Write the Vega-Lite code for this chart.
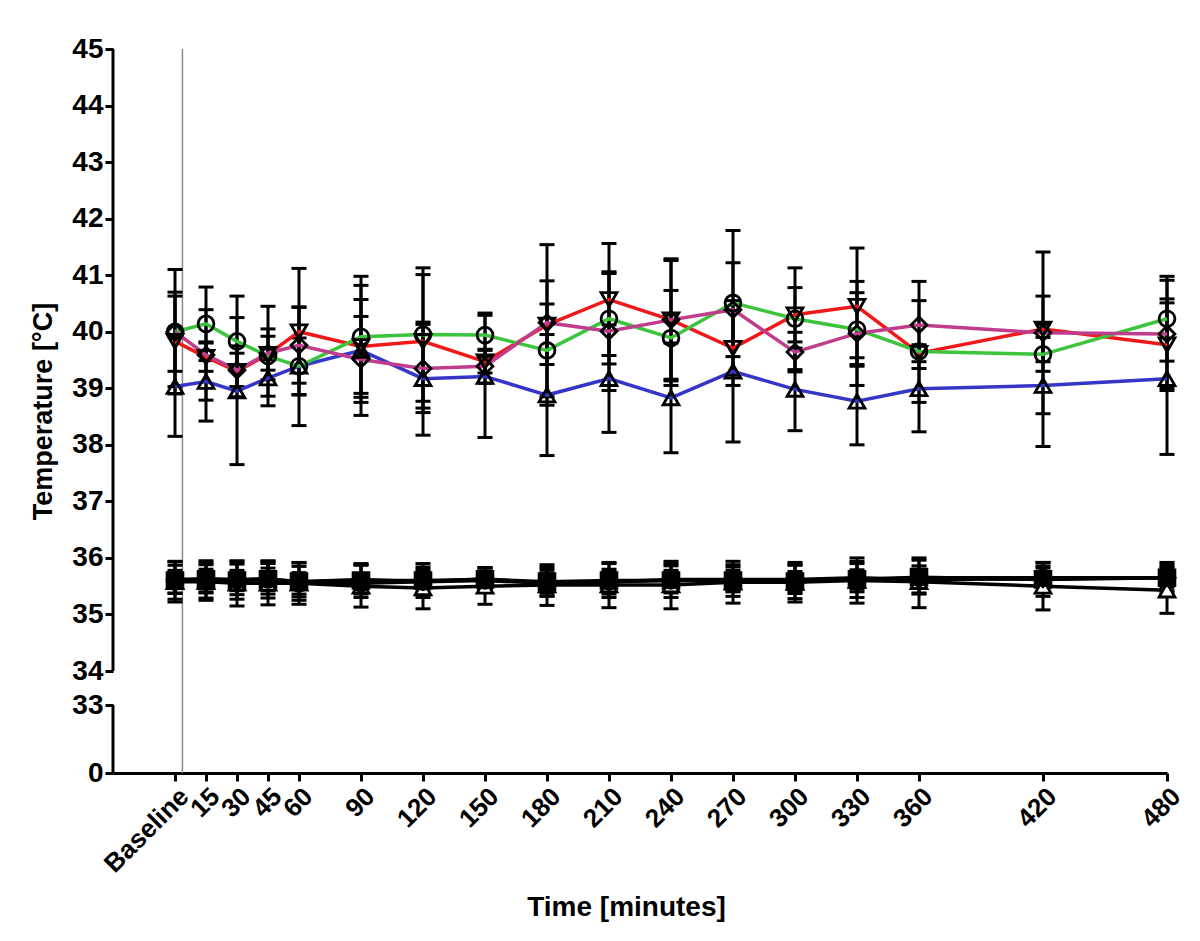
{
  "$schema": "https://vega.github.io/schema/vega-lite/v6.json",
  "width": 1054,
  "height": 724,
  "autosize": {"type": "none"},
  "padding": {"left": 113, "top": 49, "right": 33, "bottom": 168},
  "background": "white",
  "config": {
    "view": {"stroke": null},
    "font": "Liberation Sans",
    "axis": {"grid": false}
  },
  "datasets": {
    "yaxis": [
      {"x": -30, "y": 0, "y2": 33},
      {"x": -30, "y": 34, "y2": 45}
    ],
    "guide": [{"t": 3.6}],
    "temps": [
      {"s":"B","t":0,"m":39.03,"lo":38.15,"hi":39.91},
      {"s":"B","t":15,"m":39.12,"lo":38.42,"hi":39.82},
      {"s":"B","t":30,"m":38.95,"lo":37.65,"hi":40.25},
      {"s":"B","t":45,"m":39.18,"lo":38.86,"hi":39.50},
      {"s":"B","t":60,"m":39.39,"lo":38.34,"hi":40.44},
      {"s":"B","t":90,"m":39.67,"lo":38.52,"hi":40.82},
      {"s":"B","t":120,"m":39.17,"lo":38.17,"hi":40.17},
      {"s":"B","t":150,"m":39.21,"lo":38.13,"hi":40.29},
      {"s":"B","t":180,"m":38.88,"lo":37.81,"hi":39.95},
      {"s":"B","t":210,"m":39.17,"lo":38.22,"hi":40.12},
      {"s":"B","t":240,"m":38.83,"lo":37.86,"hi":39.80},
      {"s":"B","t":270,"m":39.30,"lo":38.05,"hi":40.55},
      {"s":"B","t":300,"m":38.98,"lo":38.25,"hi":39.71},
      {"s":"B","t":330,"m":38.77,"lo":38.00,"hi":39.54},
      {"s":"B","t":360,"m":38.99,"lo":38.23,"hi":39.75},
      {"s":"B","t":420,"m":39.05,"lo":37.97,"hi":40.13},
      {"s":"B","t":480,"m":39.17,"lo":37.83,"hi":40.51},

      {"s":"R","t":0,"m":39.83,"lo":39.03,"hi":40.63},
      {"s":"R","t":15,"m":39.55,"lo":39.30,"hi":39.80},
      {"s":"R","t":30,"m":39.30,"lo":38.85,"hi":39.75},
      {"s":"R","t":45,"m":39.60,"lo":39.15,"hi":40.05},
      {"s":"R","t":60,"m":40.00,"lo":38.88,"hi":41.12},
      {"s":"R","t":90,"m":39.74,"lo":38.91,"hi":40.57},
      {"s":"R","t":120,"m":39.83,"lo":38.65,"hi":41.01},
      {"s":"R","t":150,"m":39.47,"lo":39.27,"hi":39.67},
      {"s":"R","t":180,"m":40.12,"lo":38.70,"hi":41.54},
      {"s":"R","t":210,"m":40.57,"lo":39.58,"hi":41.56},
      {"s":"R","t":240,"m":40.21,"lo":39.13,"hi":41.29},
      {"s":"R","t":270,"m":39.71,"lo":39.05,"hi":40.37},
      {"s":"R","t":300,"m":40.30,"lo":39.82,"hi":40.78},
      {"s":"R","t":330,"m":40.45,"lo":39.42,"hi":41.48},
      {"s":"R","t":360,"m":39.62,"lo":39.47,"hi":39.77},
      {"s":"R","t":420,"m":40.05,"lo":39.47,"hi":40.63},
      {"s":"R","t":480,"m":39.77,"lo":38.96,"hi":40.58},

      {"s":"G","t":0,"m":40.00,"lo":38.90,"hi":41.10},
      {"s":"G","t":15,"m":40.14,"lo":39.49,"hi":40.79},
      {"s":"G","t":30,"m":39.83,"lo":39.03,"hi":40.63},
      {"s":"G","t":45,"m":39.57,"lo":38.69,"hi":40.45},
      {"s":"G","t":60,"m":39.39,"lo":38.89,"hi":39.89},
      {"s":"G","t":90,"m":39.91,"lo":38.84,"hi":40.98},
      {"s":"G","t":120,"m":39.95,"lo":38.77,"hi":41.13},
      {"s":"G","t":150,"m":39.94,"lo":39.55,"hi":40.33},
      {"s":"G","t":180,"m":39.67,"lo":38.85,"hi":40.49},
      {"s":"G","t":210,"m":40.23,"lo":39.43,"hi":41.03},
      {"s":"G","t":240,"m":39.89,"lo":39.05,"hi":40.73},
      {"s":"G","t":270,"m":40.51,"lo":39.23,"hi":41.79},
      {"s":"G","t":300,"m":40.23,"lo":39.33,"hi":41.13},
      {"s":"G","t":330,"m":40.04,"lo":39.39,"hi":40.69},
      {"s":"G","t":360,"m":39.65,"lo":38.75,"hi":40.55},
      {"s":"G","t":420,"m":39.60,"lo":39.30,"hi":39.90},
      {"s":"G","t":480,"m":40.23,"lo":39.48,"hi":40.98},

      {"s":"M","t":0,"m":40.00,"lo":39.30,"hi":40.70},
      {"s":"M","t":15,"m":39.59,"lo":38.79,"hi":40.39},
      {"s":"M","t":30,"m":39.32,"lo":39.02,"hi":39.62},
      {"s":"M","t":45,"m":39.62,"lo":39.32,"hi":39.92},
      {"s":"M","t":60,"m":39.76,"lo":39.09,"hi":40.43},
      {"s":"M","t":90,"m":39.51,"lo":38.75,"hi":40.27},
      {"s":"M","t":120,"m":39.35,"lo":38.57,"hi":40.13},
      {"s":"M","t":150,"m":39.39,"lo":39.09,"hi":39.69},
      {"s":"M","t":180,"m":40.16,"lo":39.42,"hi":40.90},
      {"s":"M","t":210,"m":40.01,"lo":38.96,"hi":41.06},
      {"s":"M","t":240,"m":40.21,"lo":39.16,"hi":41.26},
      {"s":"M","t":270,"m":40.39,"lo":39.56,"hi":41.22},
      {"s":"M","t":300,"m":39.64,"lo":39.29,"hi":39.99},
      {"s":"M","t":330,"m":39.97,"lo":39.05,"hi":40.89},
      {"s":"M","t":360,"m":40.12,"lo":39.35,"hi":40.89},
      {"s":"M","t":420,"m":39.98,"lo":38.55,"hi":41.41},
      {"s":"M","t":480,"m":39.96,"lo":39.01,"hi":40.91},

      {"s":"K1","t":0,"m":35.60,"lo":35.27,"hi":35.93},
      {"s":"K1","t":15,"m":35.62,"lo":35.29,"hi":35.95},
      {"s":"K1","t":30,"m":35.60,"lo":35.27,"hi":35.93},
      {"s":"K1","t":45,"m":35.62,"lo":35.29,"hi":35.95},
      {"s":"K1","t":60,"m":35.58,"lo":35.25,"hi":35.91},
      {"s":"K1","t":90,"m":35.60,"lo":35.30,"hi":35.90},
      {"s":"K1","t":120,"m":35.60,"lo":35.30,"hi":35.90},
      {"s":"K1","t":150,"m":35.62,"lo":35.42,"hi":35.82},
      {"s":"K1","t":180,"m":35.58,"lo":35.33,"hi":35.83},
      {"s":"K1","t":210,"m":35.60,"lo":35.30,"hi":35.90},
      {"s":"K1","t":240,"m":35.60,"lo":35.30,"hi":35.90},
      {"s":"K1","t":270,"m":35.60,"lo":35.32,"hi":35.88},
      {"s":"K1","t":300,"m":35.58,"lo":35.28,"hi":35.88},
      {"s":"K1","t":330,"m":35.62,"lo":35.30,"hi":35.94},
      {"s":"K1","t":360,"m":35.66,"lo":35.36,"hi":35.96},
      {"s":"K1","t":420,"m":35.62,"lo":35.32,"hi":35.92},
      {"s":"K1","t":480,"m":35.65,"lo":35.38,"hi":35.92},

      {"s":"K2","t":0,"m":35.58,"lo":35.22,"hi":35.94},
      {"s":"K2","t":15,"m":35.58,"lo":35.25,"hi":35.91},
      {"s":"K2","t":30,"m":35.55,"lo":35.15,"hi":35.95},
      {"s":"K2","t":45,"m":35.55,"lo":35.17,"hi":35.93},
      {"s":"K2","t":60,"m":35.55,"lo":35.18,"hi":35.92},
      {"s":"K2","t":90,"m":35.50,"lo":35.13,"hi":35.87},
      {"s":"K2","t":120,"m":35.47,"lo":35.10,"hi":35.84},
      {"s":"K2","t":150,"m":35.50,"lo":35.18,"hi":35.82},
      {"s":"K2","t":180,"m":35.52,"lo":35.16,"hi":35.88},
      {"s":"K2","t":210,"m":35.52,"lo":35.12,"hi":35.92},
      {"s":"K2","t":240,"m":35.52,"lo":35.10,"hi":35.94},
      {"s":"K2","t":270,"m":35.57,"lo":35.20,"hi":35.94},
      {"s":"K2","t":300,"m":35.57,"lo":35.22,"hi":35.92},
      {"s":"K2","t":330,"m":35.60,"lo":35.20,"hi":36.00},
      {"s":"K2","t":360,"m":35.58,"lo":35.12,"hi":36.00},
      {"s":"K2","t":420,"m":35.50,"lo":35.08,"hi":35.92},
      {"s":"K2","t":480,"m":35.43,"lo":35.02,"hi":35.84},

      {"s":"K3","t":0,"m":35.62,"lo":35.37,"hi":35.87},
      {"s":"K3","t":15,"m":35.63,"lo":35.38,"hi":35.88},
      {"s":"K3","t":30,"m":35.62,"lo":35.35,"hi":35.89},
      {"s":"K3","t":45,"m":35.63,"lo":35.36,"hi":35.90},
      {"s":"K3","t":60,"m":35.58,"lo":35.31,"hi":35.85},
      {"s":"K3","t":90,"m":35.62,"lo":35.36,"hi":35.88},
      {"s":"K3","t":120,"m":35.58,"lo":35.36,"hi":35.80},
      {"s":"K3","t":150,"m":35.63,"lo":35.43,"hi":35.83},
      {"s":"K3","t":180,"m":35.55,"lo":35.32,"hi":35.78},
      {"s":"K3","t":210,"m":35.58,"lo":35.36,"hi":35.80},
      {"s":"K3","t":240,"m":35.62,"lo":35.38,"hi":35.86},
      {"s":"K3","t":270,"m":35.62,"lo":35.40,"hi":35.84},
      {"s":"K3","t":300,"m":35.62,"lo":35.37,"hi":35.87},
      {"s":"K3","t":330,"m":35.65,"lo":35.40,"hi":35.90},
      {"s":"K3","t":360,"m":35.62,"lo":35.38,"hi":35.86},
      {"s":"K3","t":420,"m":35.63,"lo":35.40,"hi":35.86},
      {"s":"K3","t":480,"m":35.65,"lo":35.42,"hi":35.88},

      {"s":"K4","t":0,"m":35.58,"lo":35.38,"hi":35.78},
      {"s":"K4","t":15,"m":35.60,"lo":35.40,"hi":35.80},
      {"s":"K4","t":30,"m":35.60,"lo":35.42,"hi":35.78},
      {"s":"K4","t":45,"m":35.62,"lo":35.42,"hi":35.82},
      {"s":"K4","t":60,"m":35.55,"lo":35.36,"hi":35.74},
      {"s":"K4","t":90,"m":35.55,"lo":35.40,"hi":35.70},
      {"s":"K4","t":120,"m":35.58,"lo":35.40,"hi":35.76},
      {"s":"K4","t":150,"m":35.60,"lo":35.45,"hi":35.75},
      {"s":"K4","t":180,"m":35.55,"lo":35.38,"hi":35.72},
      {"s":"K4","t":210,"m":35.58,"lo":35.40,"hi":35.76},
      {"s":"K4","t":240,"m":35.60,"lo":35.42,"hi":35.78},
      {"s":"K4","t":270,"m":35.60,"lo":35.42,"hi":35.78},
      {"s":"K4","t":300,"m":35.58,"lo":35.40,"hi":35.76},
      {"s":"K4","t":330,"m":35.62,"lo":35.45,"hi":35.79},
      {"s":"K4","t":360,"m":35.65,"lo":35.50,"hi":35.80},
      {"s":"K4","t":420,"m":35.65,"lo":35.48,"hi":35.82},
      {"s":"K4","t":480,"m":35.65,"lo":35.48,"hi":35.82}
    ]
  },
  "layer": [
    {
      "data": {"name": "yaxis"},
      "mark": {"type": "rule", "color": "black", "strokeWidth": 3},
      "encoding": {
        "x": {
          "field": "x", "type": "quantitative",
          "title": "Time [minutes]",
          "scale": {"domain": [-30, 480], "nice": false, "zero": false},
          "axis": {
            "values": [0, 15, 30, 45, 60, 90, 120, 150, 180, 210, 240, 270, 300, 330, 360, 420, 480],
            "labelExpr": "datum.value == 0 ? 'Baseline' : datum.label",
            "labelAngle": -45,
            "labelFontSize": 26,
            "labelFontWeight": "bold",
            "labelColor": "black",
            "labelPadding": 2,
            "labelOverlap": false,
            "labelFlush": false,
            "tickSize": 8,
            "tickWidth": 3,
            "tickColor": "black",
            "domainWidth": 3,
            "domainColor": "black",
            "titleFontSize": 28,
            "titleFontWeight": "bold",
            "titleColor": "black",
            "titlePadding": 16,
            "titleX": 513
          }
        },
        "y": {
          "field": "y", "type": "quantitative",
          "title": "Temperature [°C]",
          "scale": {"domain": [0, 33, 34, 45], "range": [724, 656, 622, 0], "nice": false, "zero": false},
          "axis": {
            "values": [0, 33, 34, 35, 36, 37, 38, 39, 40, 41, 42, 43, 44, 45],
            "domain": false,
            "labelFontSize": 28,
            "labelFontWeight": "bold",
            "labelColor": "black",
            "labelPadding": 2,
            "labelOverlap": false,
            "labelFlush": false,
            "tickSize": 8,
            "tickWidth": 3,
            "tickColor": "black",
            "titleFontSize": 27,
            "titleFontWeight": "bold",
            "titleColor": "black",
            "titlePadding": 14
          }
        },
        "y2": {"field": "y2"}
      }
    },
    {
      "data": {"name": "guide"},
      "mark": {"type": "rule", "color": "#8a8a8a", "strokeWidth": 1.5},
      "encoding": {
        "x": {"field": "t", "type": "quantitative", "title": "Time [minutes]"}
      }
    },
    {
      "data": {"name": "temps"},
      "mark": {"type": "errorbar", "color": "black", "opacity": 1, "thickness": 3, "rule": {"opacity": 1, "color": "black", "strokeWidth": 3}, "ticks": {"size": 15, "thickness": 3, "color": "black", "opacity": 1}},
      "encoding": {
        "x": {"field": "t", "type": "quantitative", "title": "Time [minutes]"},
        "y": {"field": "lo", "type": "quantitative", "title": "Temperature [°C]"},
        "y2": {"field": "hi"},
        "detail": {"field": "s"}
      }
    },
    {
      "data": {"name": "temps"},
      "mark": {"type": "line", "strokeWidth": 3.5},
      "encoding": {
        "x": {"field": "t", "type": "quantitative", "title": "Time [minutes]"},
        "y": {"field": "m", "type": "quantitative", "title": "Temperature [°C]"},
        "color": {
          "field": "s", "type": "nominal", "legend": null,
          "scale": {"domain": ["B", "R", "G", "M", "K1", "K2", "K3", "K4"], "range": ["#3535c8", "#f01818", "#3cc43c", "#c03c8c", "black", "black", "black", "black"]}
        }
      }
    },
    {
      "data": {"name": "temps"},
      "mark": {"type": "point", "filled": true, "stroke": "black", "strokeWidth": 2.8, "size": 250, "opacity": 1},
      "encoding": {
        "x": {"field": "t", "type": "quantitative", "title": "Time [minutes]"},
        "y": {"field": "m", "type": "quantitative", "title": "Temperature [°C]"},
        "shape": {
          "field": "s", "type": "nominal", "legend": null,
          "scale": {"domain": ["B", "R", "G", "M", "K1", "K2", "K3", "K4"], "range": ["triangle-up", "triangle-down", "circle", "diamond", "square", "triangle-up", "diamond", "circle"]}
        },
        "fill": {
          "field": "s", "type": "nominal", "legend": null,
          "scale": {"domain": ["B", "R", "G", "M", "K1", "K2", "K3", "K4"], "range": ["transparent", "transparent", "transparent", "transparent", "black", "white", "black", "black"]}
        }
      }
    }
  ]
}
